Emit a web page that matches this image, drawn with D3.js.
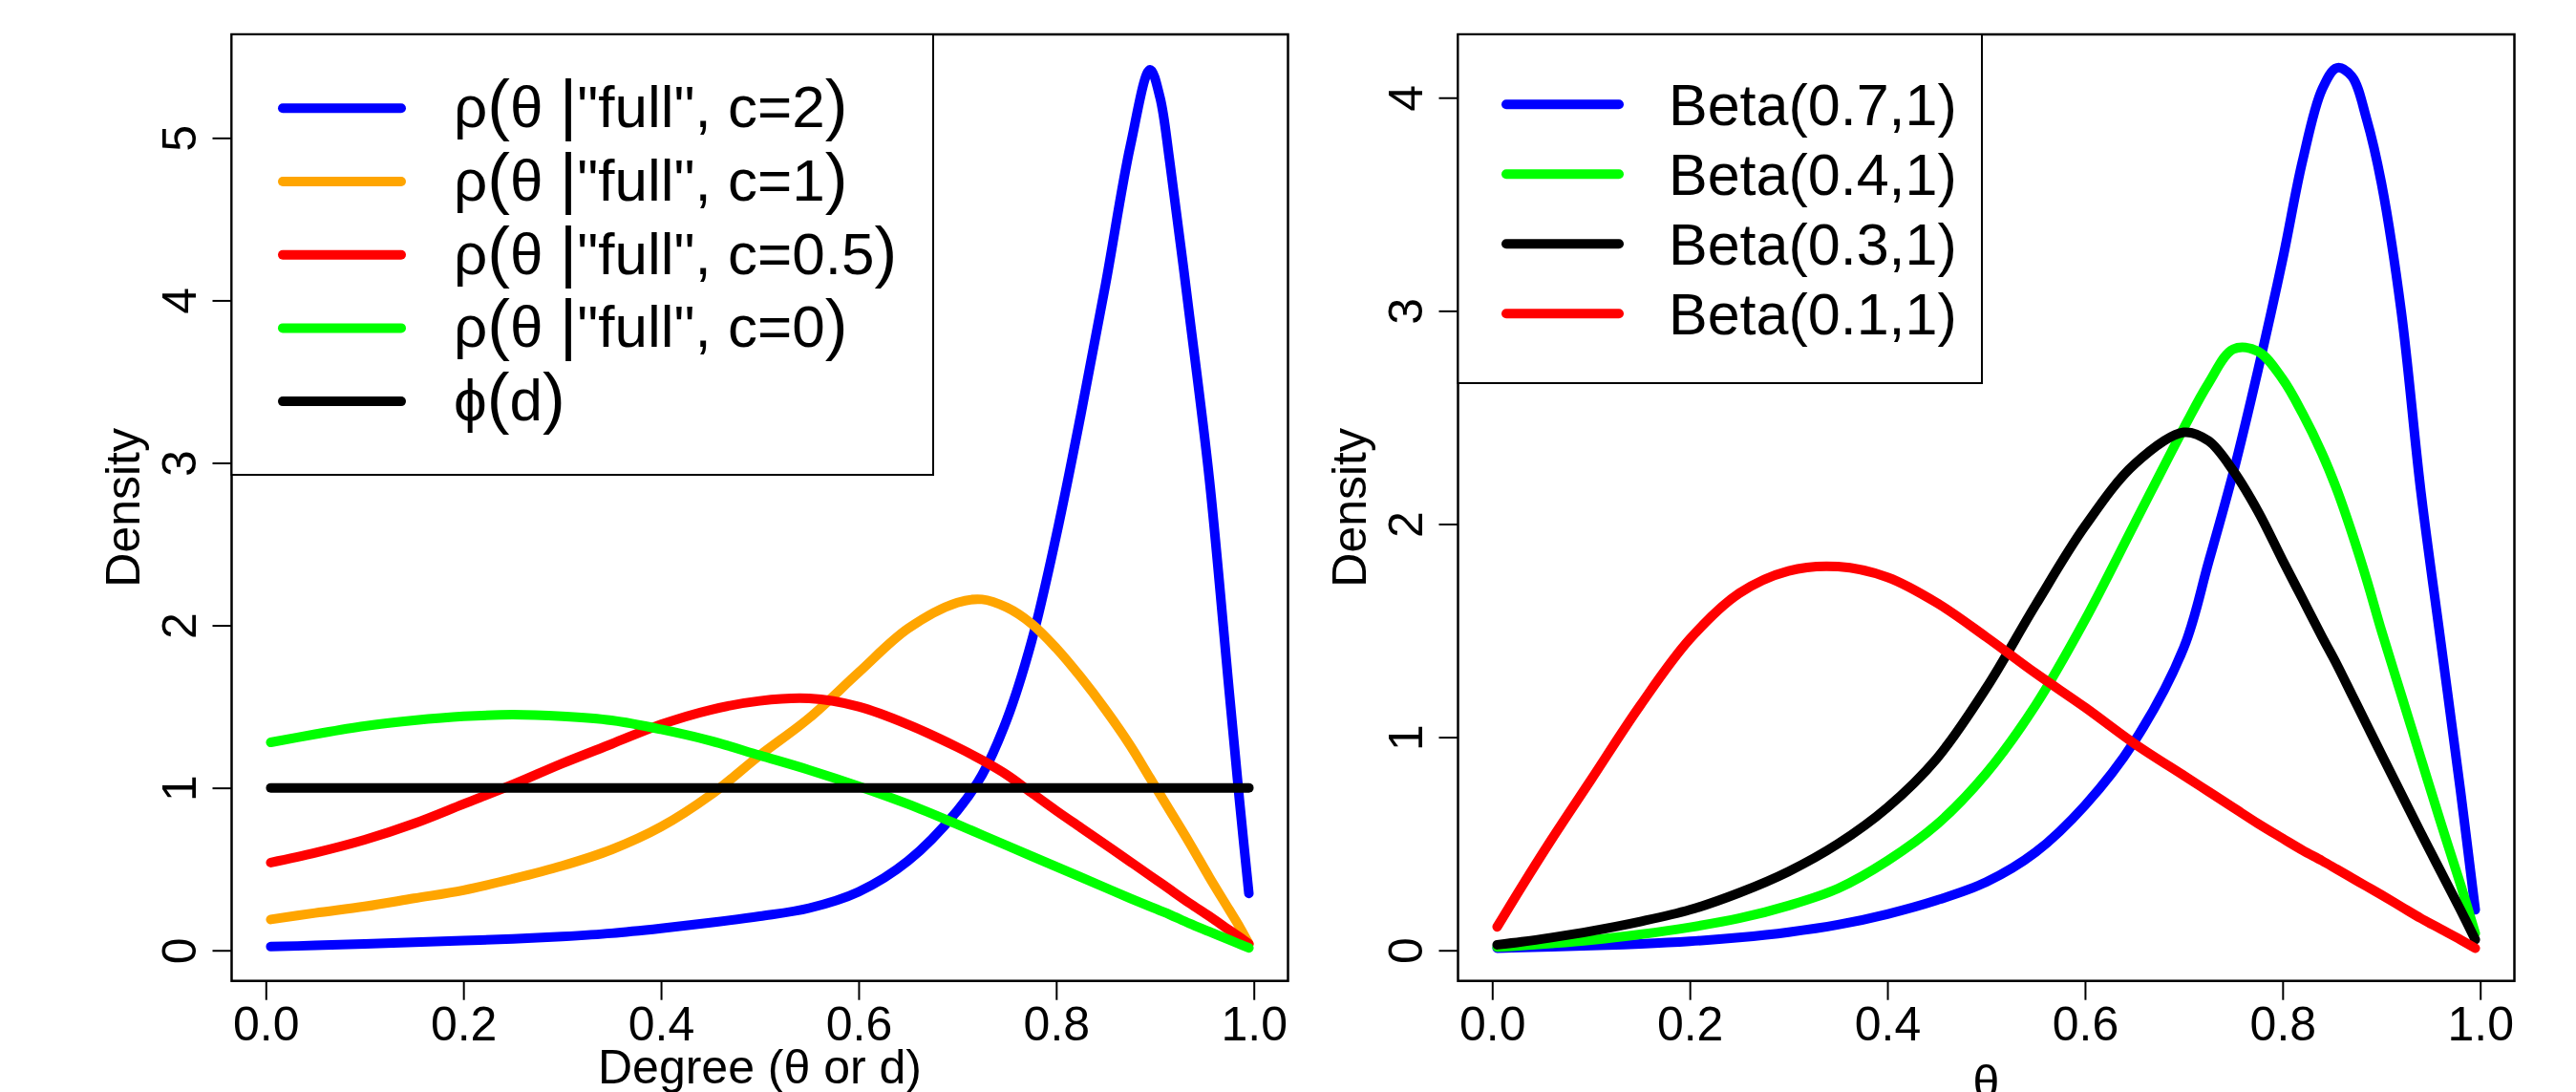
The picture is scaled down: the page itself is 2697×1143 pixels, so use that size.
<!DOCTYPE html>
<html>
<head>
<meta charset="utf-8">
<script src="https://cdn.jsdelivr.net/npm/d3@7"></script>
<style>
  html, body { margin: 0; padding: 0; background: #fff; }
  svg text { font-family: "Liberation Sans", Arial, Helvetica, sans-serif; fill: #000; }
</style>
</head>
<body>
<svg id="chart" width="2697" height="1143"></svg>
<script>
// ---- left panel: posterior of degree for several c ----
const degreeGrid = [0.005, 0.05, 0.1, 0.15, 0.2, 0.25, 0.3, 0.35, 0.4, 0.45, 0.5, 0.55, 0.6, 0.65, 0.7,
                    0.725, 0.75, 0.775, 0.8, 0.825, 0.85, 0.875, 0.895, 0.905, 0.915, 0.935, 0.955, 0.975, 0.986, 0.995];
const fullC2  = [0.023, 0.03, 0.04, 0.05, 0.06, 0.07, 0.085, 0.105, 0.135, 0.17, 0.21, 0.26, 0.36, 0.55, 0.86,
                 1.08, 1.42, 1.9, 2.55, 3.3, 4.1, 4.95, 5.42, 5.25, 4.85, 3.9, 2.9, 1.6, 0.89, 0.35];
const fullC1  = [0.19, 0.23, 0.27, 0.32, 0.37, 0.44, 0.52, 0.62, 0.76, 0.955, 1.2, 1.43, 1.71, 1.98, 2.14,
                 2.16, 2.11, 2.01, 1.86, 1.68, 1.48, 1.26, 1.06, 0.96, 0.86, 0.66, 0.45, 0.25, 0.14, 0.04];
const fullC05 = [0.54, 0.6, 0.68, 0.78, 0.9, 1.02, 1.15, 1.27, 1.39, 1.48, 1.535, 1.55, 1.5, 1.39, 1.25,
                 1.17, 1.08, 0.97, 0.86, 0.755, 0.65, 0.545, 0.46, 0.418, 0.375, 0.29, 0.21, 0.125, 0.08, 0.04];
const fullC0  = [1.28, 1.33, 1.38, 1.415, 1.44, 1.45, 1.44, 1.415, 1.36, 1.29, 1.2, 1.11, 1.01, 0.9, 0.775,
                 0.71, 0.645, 0.58, 0.515, 0.45, 0.385, 0.32, 0.27, 0.245, 0.22, 0.165, 0.115, 0.065, 0.037, 0.015];
const phiX = [0.005, 0.995];
const phiY = [1, 1];

// ---- right panel: beta densities ----
const thetaGrid = [0.005, 0.03, 0.06, 0.1, 0.15, 0.2, 0.25, 0.3, 0.35, 0.4, 0.45, 0.5, 0.55, 0.6, 0.65, 0.7,
                   0.725, 0.75, 0.775, 0.8, 0.82, 0.84, 0.855, 0.87, 0.885, 0.9, 0.92, 0.94, 0.96, 0.98, 0.995];
const beta07 = [0.01, 0.013, 0.017, 0.022, 0.03, 0.042, 0.06, 0.085, 0.12, 0.17, 0.235, 0.32, 0.46, 0.68, 0.98, 1.42,
                1.82, 2.24, 2.72, 3.24, 3.7, 4.04, 4.14, 4.1, 3.9, 3.6, 3.0, 2.15, 1.45, 0.75, 0.19];
const beta04 = [0.015, 0.022, 0.032, 0.048, 0.075, 0.108, 0.15, 0.21, 0.29, 0.42, 0.59, 0.83, 1.15, 1.55, 2.0, 2.45,
                2.66, 2.82, 2.81, 2.68, 2.52, 2.33, 2.16, 1.96, 1.74, 1.5, 1.2, 0.9, 0.6, 0.31, 0.08];
const beta03 = [0.026, 0.04, 0.06, 0.09, 0.135, 0.19, 0.27, 0.37, 0.5, 0.67, 0.9, 1.23, 1.62, 1.99, 2.28, 2.43,
                2.39, 2.25, 2.06, 1.83, 1.65, 1.47, 1.34, 1.2, 1.06, 0.92, 0.735, 0.55, 0.37, 0.19, 0.05];
const beta01 = [0.11, 0.3, 0.52, 0.8, 1.15, 1.46, 1.675, 1.78, 1.8, 1.75, 1.63, 1.47, 1.3, 1.14, 0.97, 0.82,
                0.745, 0.67, 0.595, 0.525, 0.47, 0.42, 0.38, 0.34, 0.3, 0.26, 0.205, 0.15, 0.1, 0.05, 0.01];

const xTicks = [0, 0.2, 0.4, 0.6, 0.8, 1.0];
const leftYTicks = [0, 1, 2, 3, 4, 5];
const rightYTicks = [0, 1, 2, 3, 4];

const svg = d3.select('#chart');

function drawPanel(p) {
  const g = svg.append('g');
  const x = d3.scaleLinear().domain(p.xlim).range([p.left, p.right]);
  const y = d3.scaleLinear().domain(p.ylim).range([p.bottom, p.top]);
  const line = d3.line()
    .x(d => x(d[0]))
    .y(d => y(d[1]))
    .curve(d3.curveCatmullRom.alpha(0.5));

  p.series.forEach(s => {
    g.append('path')
      .datum(d3.zip(s.x, s.y))
      .attr('d', line)
      .attr('fill', 'none')
      .attr('stroke', s.color)
      .attr('stroke-width', 10)
      .attr('stroke-linecap', 'round')
      .attr('stroke-linejoin', 'round');
  });

  // axes, R style: ticks outside, no domain line (box drawn instead)
  const xAxis = g.append('g')
    .attr('transform', `translate(0,${p.bottom})`)
    .call(d3.axisBottom(x).tickValues(xTicks).tickFormat(d3.format('.1f')).tickSize(20).tickPadding(7));
  xAxis.select('.domain').remove();
  xAxis.selectAll('line').attr('stroke', '#000').attr('stroke-width', 2);
  xAxis.selectAll('text').attr('font-size', 50).style('font-family', '"Liberation Sans", Arial, sans-serif');

  const yAxis = g.append('g')
    .attr('transform', `translate(${p.left},0)`)
    .call(d3.axisLeft(y).tickValues(p.yTicks).tickFormat(d3.format('d')).tickSize(20));
  yAxis.select('.domain').remove();
  yAxis.selectAll('line').attr('stroke', '#000').attr('stroke-width', 2);
  yAxis.selectAll('text')
    .attr('x', null).attr('dy', null)
    .attr('text-anchor', 'middle')
    .attr('transform', 'translate(-38,0) rotate(-90)')
    .attr('font-size', 50)
    .style('font-family', '"Liberation Sans", Arial, sans-serif');

  g.append('rect')
    .attr('x', p.left).attr('y', p.top)
    .attr('width', p.right - p.left).attr('height', p.bottom - p.top)
    .attr('fill', 'none').attr('stroke', '#000').attr('stroke-width', 2.5);

  // axis titles
  g.append('text')
    .attr('transform', `translate(${p.ylabX},${(p.top + p.bottom) / 2}) rotate(-90)`)
    .attr('text-anchor', 'middle')
    .attr('font-size', 50)
    .text('Density');
  g.append('text')
    .attr('x', (p.left + p.right) / 2)
    .attr('y', p.xlabY)
    .attr('text-anchor', 'middle')
    .attr('font-size', 50)
    .text(p.xlab);

  // legend
  const L = p.legend;
  const lg = g.append('g');
  lg.append('rect')
    .attr('x', p.left).attr('y', p.top)
    .attr('width', L.right - p.left).attr('height', L.bottom - p.top)
    .attr('fill', '#fff').attr('stroke', '#000').attr('stroke-width', 2);
  p.series.forEach((s, i) => {
    const ly = L.y0 + i * L.dy;
    lg.append('line')
      .attr('x1', L.x1).attr('x2', L.x2)
      .attr('y1', ly).attr('y2', ly)
      .attr('stroke', s.color).attr('stroke-width', 10)
      .attr('stroke-linecap', 'round');
    const t = lg.append('text')
      .attr('x', L.tx)
      .attr('y', ly + L.base)
      .attr('font-size', L.fs);
    if (L.bigDelims) {
      // plotmath-like: taller parentheses and bar
      s.label.split(/([()|])/).filter(d => d !== '').forEach(part => {
        t.append('tspan')
          .attr('font-size', '()|'.includes(part) ? L.fs * 1.15 : L.fs)
          .text(part);
      });
    } else {
      t.text(s.label);
    }
  });
}

drawPanel({
  left: 242.5, right: 1348.5, top: 36, bottom: 1026.7,
  xlim: [-0.0346, 1.0346], ylim: [-0.188, 5.637],
  yTicks: leftYTicks,
  ylabX: 146, xlabY: 1134, xlab: 'Degree (θ or d)',
  legend: { right: 977, bottom: 497, x1: 296, x2: 420, y0: 113.3, dy: 76.7, tx: 475, base: 20, fs: 62, bigDelims: true },
  series: [
    { x: degreeGrid, y: fullC2,  color: '#0000ff', label: 'ρ(θ |"full", c=2)' },
    { x: degreeGrid, y: fullC1,  color: '#ffa500', label: 'ρ(θ |"full", c=1)' },
    { x: degreeGrid, y: fullC05, color: '#ff0000', label: 'ρ(θ |"full", c=0.5)' },
    { x: degreeGrid, y: fullC0,  color: '#00ff00', label: 'ρ(θ |"full", c=0)' },
    { x: phiX,       y: phiY,    color: '#000000', label: 'ϕ(d)' }
  ]
});

drawPanel({
  left: 1526.5, right: 2632.5, top: 36, bottom: 1026.7,
  xlim: [-0.0346, 1.0346], ylim: [-0.1434, 4.2969],
  yTicks: rightYTicks,
  ylabX: 1430, xlabY: 1150, xlab: 'θ',
  legend: { right: 2075, bottom: 401, x1: 1577, x2: 1695, y0: 109.3, dy: 73, tx: 1747, base: 22, fs: 61, bigDelims: false },
  series: [
    { x: thetaGrid, y: beta07, color: '#0000ff', label: 'Beta(0.7,1)' },
    { x: thetaGrid, y: beta04, color: '#00ff00', label: 'Beta(0.4,1)' },
    { x: thetaGrid, y: beta03, color: '#000000', label: 'Beta(0.3,1)' },
    { x: thetaGrid, y: beta01, color: '#ff0000', label: 'Beta(0.1,1)' }
  ]
});
</script>
</body>
</html>
